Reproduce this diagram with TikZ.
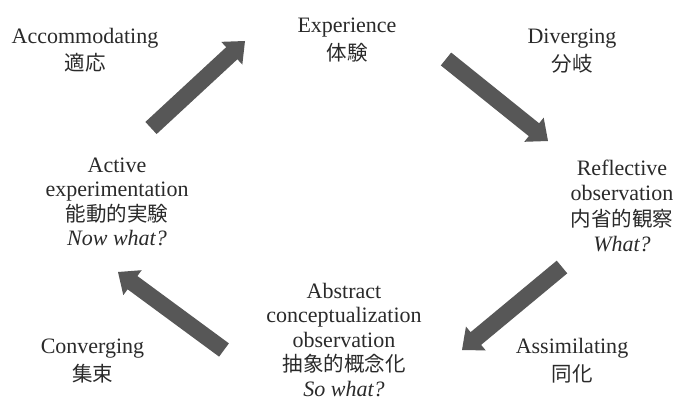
\documentclass[tikz,border=0pt]{standalone}
\usepackage{fontspec}
\setmainfont{Liberation Serif}
\newfontfamily\cjk{Noto Sans CJK JP}
\usetikzlibrary{calc}
\definecolor{arrowgray}{HTML}{575757}
\definecolor{textgray}{HTML}{2A2A2A}
\newcommand{\blockarrow}[2]{%
  \coordinate (H) at ($(#2)!18pt!(#1)$);
  \fill[arrowgray] ($(#1)!8.25pt!90:(#2)$) -- ($(H)!8.25pt!-90:(#1)$) -- ($(H)!15.5pt!-90:(#1)$) -- (#2)
    -- ($(H)!15.5pt!90:(#1)$) -- ($(H)!8.25pt!90:(#1)$) -- ($(#1)!8.25pt!-90:(#2)$) -- cycle;}
\newcommand{\fl}{\rule{0pt}{16pt}}
\tikzset{
  lbl/.style={anchor=north, inner sep=0pt, align=center, text=textgray, font=\fontsize{22}{#1}\selectfont},
  lbl/.default=28
}
\begin{document}
\begin{tikzpicture}[x=1pt,y=-1pt]
\useasboundingbox[fill=white] (0,0) rectangle (676,403);
% labels (y = first baseline - 16)
\node[lbl=27] (acc) at (85,27) {\fl Accommodating\\{\cjk\fontsize{20.5}{27}\selectfont 適応}};
\node[lbl=28] (exp) at (347,16) {\fl Experience\\{\cjk\fontsize{20.5}{28}\selectfont 体験}};
\node[lbl=28] (div) at (572,27) {\fl Diverging\\{\cjk\fontsize{20.5}{28}\selectfont 分岐}};
\node[lbl=24.5] (act) at (117,156) {\fl Active\\experimentation\\{\cjk\fontsize{20.5}{24.5}\selectfont 能動的実験}\\\textit{Now what?}};
\node[lbl=25.5] (ref) at (622,159) {\fl Reflective\\observation\\{\cjk\fontsize{20.5}{25.5}\selectfont 内省的観察}\\\textit{What?}};
\node[lbl=24.5] (abs) at (344,282) {\fl Abstract\\conceptualization\\observation\\{\cjk\fontsize{20.5}{24.5}\selectfont 抽象的概念化}\\\textit{So what?}};
\node[lbl=28] (con) at (92.5,337) {\fl Converging\\{\cjk\fontsize{20.5}{28}\selectfont 集束}};
\node[lbl=28] (ass) at (572,337) {\fl Assimilating\\{\cjk\fontsize{20.5}{28}\selectfont 同化}};
% arrows
\coordinate (t1) at (151,128); \coordinate (h1) at (245,41);
\coordinate (t2) at (446,59);  \coordinate (h2) at (548,141);
\coordinate (t3) at (562,267); \coordinate (h3) at (462,350);
\coordinate (t4) at (224,350); \coordinate (h4) at (118,272);
\blockarrow{t1}{h1}
\blockarrow{t2}{h2}
\blockarrow{t3}{h3}
\blockarrow{t4}{h4}
\end{tikzpicture}
\end{document}
